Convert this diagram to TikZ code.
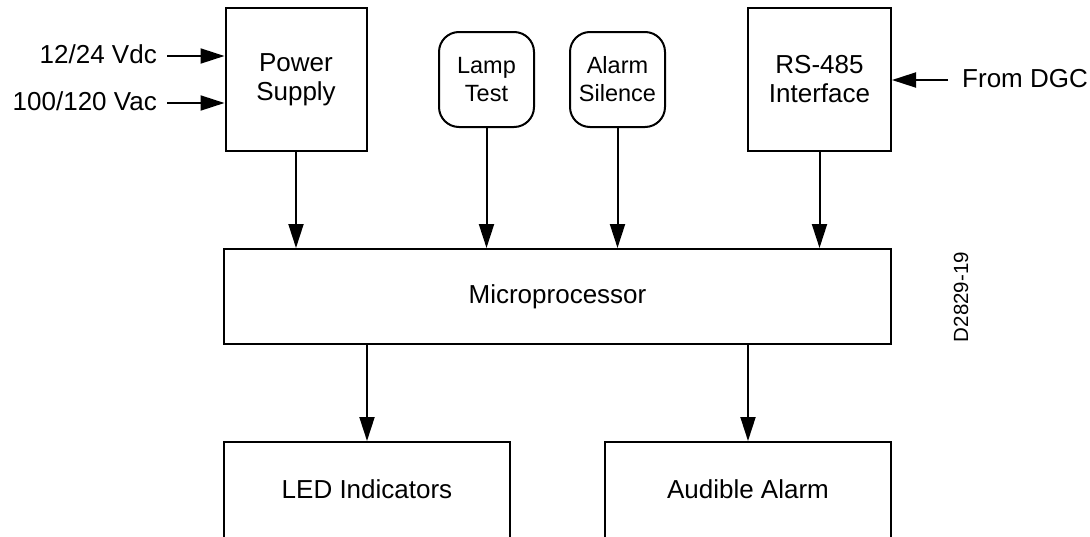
\documentclass[tikz,border=0pt]{standalone}
\usepackage{fontspec}
\setmainfont{Liberation Sans}
\usetikzlibrary{arrows.meta}
\begin{document}
\begin{tikzpicture}[x=1pt,y=-1pt,
  lw/.style={line width=2pt},
  blk/.style={draw,lw,rectangle,inner sep=0pt,align=center,
    font=\fontsize{26}{29}\selectfont},
  rbtn/.style={draw,lw,rectangle,rounded corners=20pt,inner sep=0pt,align=center,
    minimum width=95pt,minimum height=95pt,font=\fontsize{23.5}{28}\selectfont},
  lbl/.style={inner sep=0pt,font=\fontsize{26}{29}\selectfont},
  arr/.style={lw,-{Triangle[length=24pt,width=15pt]}}]
\useasboundingbox (0,0) rectangle (1090,536);
\clip (0,0) rectangle (1090,536);
\fill[white] (0,0) rectangle (1090,536);

\node[blk,minimum width=141pt,minimum height=143pt] (ps) at (296,79.5) {Power\\Supply};
\node[rbtn] (lt) at (486.5,79.5) {Lamp\\Test};
\node[rbtn] (as) at (617.5,79.5) {Alarm\\Silence};
\node[blk,minimum width=143pt,minimum height=143pt] (rs) at (819.5,79.5) {RS-485\\Interface};
\node[blk,minimum width=667pt,minimum height=95pt] (mp) at (557.5,296.5) {Microprocessor};
\node[blk,minimum width=286pt,minimum height=100pt] (led) at (367,492) {\raisebox{5pt}{LED Indicators}};
\node[blk,minimum width=286pt,minimum height=100pt] (aa) at (748,492) {\raisebox{5pt}{Audible Alarm}};

\node[lbl,anchor=base east] (lvdc) at (157,63) {12/24 Vdc};
\node[lbl,anchor=base east] (lvac) at (157,110) {100/120 Vac};
\node[lbl,anchor=base west] (ldgc) at (962,87) {From DGC};
\node[inner sep=0pt,rotate=90,font=\fontsize{20.5}{24}\selectfont] (dno) at (961,297) {D2829-19};

\coordinate (vdcin) at (167,56);
\coordinate (vacin) at (167,103);
\coordinate (dgcin) at (948,80);
\draw[arr] (vdcin) -- (vdcin -| ps.west);
\draw[arr] (vacin) -- (vacin -| ps.west);
\draw[arr] (dgcin) -- (dgcin -| rs.east);

\draw[arr] (ps.south) -- (ps.south |- mp.north);
\draw[arr] (lt.south) -- (lt.south |- mp.north);
\draw[arr] (as.south) -- (as.south |- mp.north);
\draw[arr] (rs.south) -- (rs.south |- mp.north);
\draw[arr] (led.north |- mp.south) -- (led.north);
\draw[arr] (aa.north |- mp.south) -- (aa.north);
\end{tikzpicture}
\end{document}
